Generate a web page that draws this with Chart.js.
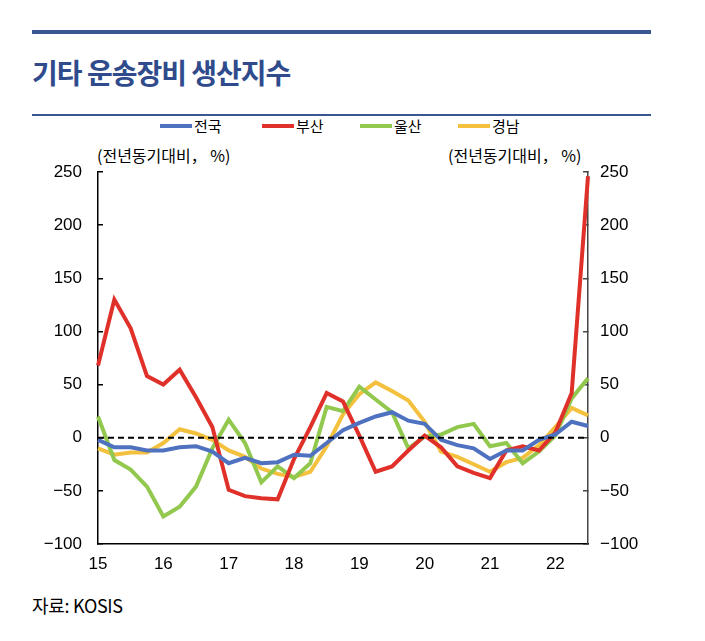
<!DOCTYPE html>
<html>
<head>
<meta charset="utf-8">
<script src="https://cdn.jsdelivr.net/npm/chart.js@4.4.0/dist/chart.umd.min.js"></script>
<style>
  body { margin: 0; background: #fff; width: 705px; height: 641px; position: relative; overflow: hidden;
         font-family: "Noto Sans CJK KR", sans-serif; }
  .rule { position: absolute; left: 32px; width: 619px; background: #3a5592; }
  #title { position: absolute; left: 32px; top: 52px; font-size: 28px; font-weight: bold; color: #2f4b8c; letter-spacing: -1px; line-height: 40px; }
  #legend { position: absolute; top: 115px; left: 0; width: 705px; height: 22px; }
  .lg { position: absolute; top: 0; font-size: 15px; color: #000; line-height: 22px; }
  .lg span { display: inline-block; width: 32px; height: 4px; vertical-align: middle; margin-right: 2px; position: relative; top: -2px; }
  .unit { position: absolute; top: 143px; font-size: 16px; color: #000; }
  #src { position: absolute; left: 32px; top: 592px; font-size: 18px; color: #000; letter-spacing: -0.3px; }
  #wrap { position: absolute; left: 0; top: 160px; width: 705px; height: 430px; }
</style>
</head>
<body>
<div class="rule" style="top:30px;height:4px"></div>
<div id="title">기타 운송장비 생산지수</div>
<div class="rule" style="top:114px;height:2px"></div>
<div id="legend"></div>
<div class="unit" style="left:97px">(전년동기대비， %)</div>
<div class="unit" style="left:448px">(전년동기대비， %)</div>
<div id="wrap"><canvas id="grafico"></canvas></div>
<div id="src">자료: KOSIS</div>
<script>
// 분기 (2015 1Q ~ 2022 3Q)
const quarters = [];
for (let y = 15; y <= 22; y++) {
    for (let q = 1; q <= 4; q++) {
        if (y === 22 && q === 4) break;
        quarters.push(y + '.' + q + 'Q');
    }
}
const yearLabels = ['15', '16', '17', '18', '19', '20', '21', '22'];

const seriesNames = ['전국', '부산', '울산', '경남'];
const seriesColors = ['#4f72c0', '#e0302a', '#92c84e', '#f4c13e'];

const jeonguk = [-2, -9, -9, -12, -12, -9, -8, -13, -24, -19, -24, -23, -16, -17, -5, 7,
                 14, 20, 24, 16, 13, -2, -7, -10, -20, -12, -12, -2, 3, 15, 11];
const busan = [68, 130, 103, 58, 50, 64, 38, 10, -49, -55, -57, -58, -20, 10, 42, 34,
               2, -32, -27, -12, 2, -9, -27, -33, -38, -12, -8, -12, 5, 42, 246];
const ulsan = [20, -21, -30, -46, -74, -65, -46, -10, 17, -5, -42, -27, -38, -24, 29, 25,
               48, 36, 24, -10, 1, 3, 10, 13, -8, -5, -24, -13, 2, 37, 56];
const gyeongnam = [-10, -16, -14, -14, -5, 8, 4, -2, -12, -18, -29, -34, -37, -32, -8, 22,
                   41, 52, 44, 35, 15, -13, -18, -25, -32, -23, -19, -7, 10, 28, 21];
const zeroLine = quarters.map(() => 0);

const yTicks = [250, 200, 150, 100, 50, 0, -50, -100];

// 범례
const legendDiv = document.getElementById('legend');
const legendX = [160, 262, 360, 458];
seriesNames.forEach((nome, i) => {
    const d = document.createElement('div');
    d.className = 'lg';
    d.style.left = legendX[i] + 'px';
    d.innerHTML = `<span style="background:${seriesColors[i]}"></span>${nome}`;
    legendDiv.appendChild(d);
});

const tickFont = { family: '"Liberation Sans", Arial, sans-serif', size: 17 };
const fmt = v => String(v).replace('-', '\u2212');

const datasets = [jeonguk, busan, ulsan, gyeongnam].map((dados, i) => ({
    label: seriesNames[i],
    data: dados,
    borderColor: seriesColors[i],
    borderWidth: 4,
    pointRadius: 0,
    tension: 0,
    fill: false,
    yAxisID: 'y',
    order: 2
}));
datasets.push({
    label: 'zero',
    data: zeroLine,
    borderColor: '#000',
    borderWidth: 2,
    borderDash: [6, 4],
    pointRadius: 0,
    fill: false,
    yAxisID: 'y',
    order: 1
});

// 세로축 라벨 여백이 그래프 영역을 줄이지 않도록
const fixY = w => s => { s.width = w; s.paddingTop = 0; s.paddingBottom = 0; };

new Chart(document.getElementById('grafico').getContext('2d'), {
    type: 'line',
    data: { labels: quarters, datasets: datasets },
    options: {
        responsive: true,
        maintainAspectRatio: false,
        animation: false,
        layout: { padding: { top: 12, left: 0, right: 0, bottom: 0 } },
        plugins: { legend: { display: false }, tooltip: { enabled: false } },
        scales: {
            x: {
                offset: false,
                grid: { display: false, drawTicks: false },
                border: { display: true, color: '#000', width: 1.5 },
                ticks: {
                    autoSkip: false, maxRotation: 0, padding: 10, color: '#000', font: tickFont,
                    callback: (v, i) => (i % 4 === 0 ? yearLabels[i / 4] : '')
                },
                afterFit: s => { s.height = 46; s.paddingLeft = 0; s.paddingRight = 0; }
            },
            y: {
                position: 'left',
                min: -100, max: 250,
                afterBuildTicks: s => { s.ticks = yTicks.map(v => ({ value: v })); },
                grid: { drawOnChartArea: false, drawTicks: true, tickLength: -5, color: '#000', lineWidth: 1.5 },
                border: { display: true, color: '#000', width: 1.5 },
                ticks: { padding: 21, color: '#000', font: tickFont, callback: v => fmt(v) },
                afterFit: fixY(98)
            },
            y2: {
                position: 'right',
                min: -100, max: 250,
                afterBuildTicks: s => { s.ticks = yTicks.map(v => ({ value: v })); },
                grid: { drawOnChartArea: false, drawTicks: true, tickLength: -5, color: '#444', lineWidth: 1.5 },
                border: { display: true, color: '#444', width: 1.5 },
                ticks: { padding: 17, color: '#000', font: tickFont, callback: v => fmt(v) },
                afterFit: fixY(117)
            }
        }
    }
});
</script>
</body>
</html>
